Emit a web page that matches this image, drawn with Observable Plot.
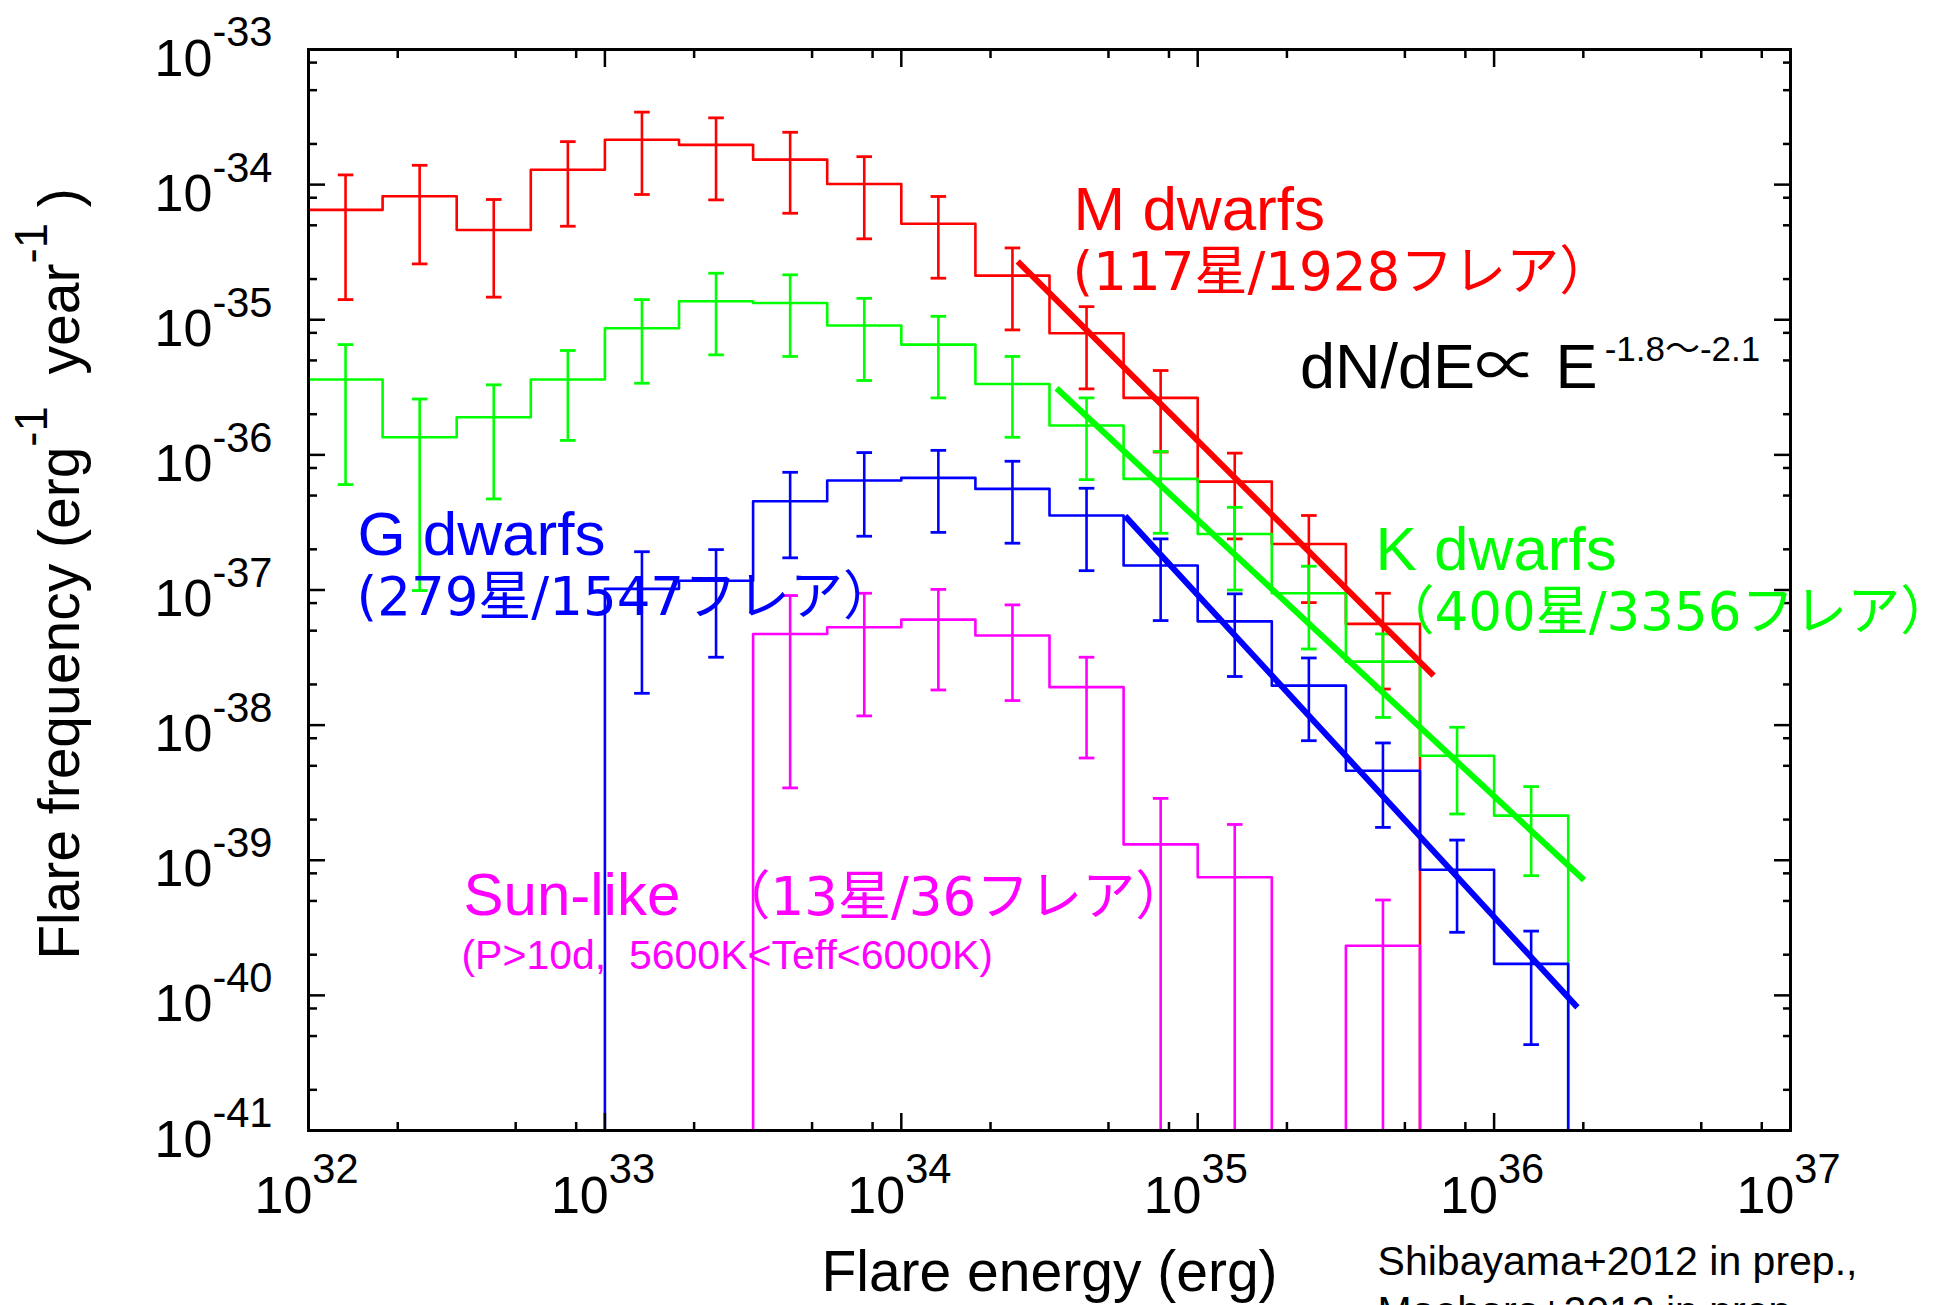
<!DOCTYPE html>
<html>
<head>
<meta charset="utf-8">
<script src="https://cdn.jsdelivr.net/npm/d3@7"></script>
<script src="https://cdn.jsdelivr.net/npm/@observablehq/plot@0.6"></script>
<style>
  html, body { margin: 0; padding: 0; background: #fff; overflow: hidden; }
  #chart svg text { white-space: pre; }
</style>
</head>
<body>
<div id="chart"></div>
<script>
// Flare frequency distributions of superflares on M, K, G dwarfs and Sun-like stars.
// Histogram bins are 0.25 dex wide in flare energy; each array lists one value per bin.
const BIN = 0.25;

// M dwarfs (bins from 10^32 erg)
const mStart = 32;
const mFreq = [6.50e-35, 8.20e-35, 4.62e-35, 1.29e-34, 2.15e-34, 1.97e-34, 1.53e-34, 1.01e-34, 5.13e-35, 2.12e-35, 7.94e-36, 2.64e-36, 6.34e-37, 2.19e-37, 5.61e-38];
const mHi   = [1.18e-34, 1.39e-34, 7.76e-35, 2.08e-34, 3.44e-34, 3.12e-34, 2.44e-34, 1.61e-34, 8.17e-35, 3.40e-35, 1.25e-35, 4.21e-36, 1.03e-36, 3.56e-37, 9.46e-38];
const mLo   = [1.41e-35, 2.59e-35, 1.47e-35, 4.92e-35, 8.45e-35, 7.71e-35, 6.14e-35, 3.97e-35, 2.03e-35, 8.41e-36, 3.08e-36, 1.05e-36, 2.39e-37, 8.07e-38, 1.85e-38];

// K dwarfs (bins from 10^32 erg)
const kStart = 32;
const kFreq = [3.61e-36, 1.35e-36, 1.90e-36, 3.61e-36, 8.65e-36, 1.37e-35, 1.33e-35, 9.06e-36, 6.55e-36, 3.35e-36, 1.65e-36, 6.64e-37, 2.60e-37, 9.46e-38, 2.95e-38, 5.94e-39, 2.14e-39];
const kHi   = [6.55e-36, 2.59e-36, 3.30e-36, 5.92e-36, 1.41e-35, 2.21e-35, 2.15e-35, 1.44e-35, 1.06e-35, 5.35e-36, 2.64e-36, 1.06e-36, 4.09e-37, 1.50e-37, 4.73e-38, 9.64e-39, 3.51e-39];
const kLo   = [6.03e-37, 9.91e-38, 4.72e-37, 1.28e-36, 3.39e-36, 5.50e-36, 5.35e-36, 3.55e-36, 2.64e-36, 1.35e-36, 6.56e-37, 2.63e-37, 1.00e-37, 3.66e-38, 1.14e-38, 2.20e-39, 7.69e-40];

// G dwarfs (bins from 10^33 erg)
const gStart = 33;
const gFreq = [1.02e-37, 1.17e-37, 4.54e-37, 6.46e-37, 6.76e-37, 5.60e-37, 3.56e-37, 1.52e-37, 5.86e-38, 1.96e-38, 4.60e-39, 8.51e-40, 1.71e-40];
const gHi   = [1.92e-37, 1.99e-37, 7.43e-37, 1.04e-36, 1.08e-36, 8.97e-37, 5.66e-37, 2.39e-37, 9.37e-38, 3.14e-38, 7.38e-39, 1.41e-39, 2.99e-40];
const gLo   = [1.72e-38, 3.18e-38, 1.73e-37, 2.50e-37, 2.67e-37, 2.22e-37, 1.39e-37, 5.94e-38, 2.29e-38, 7.67e-39, 1.75e-39, 2.93e-40, 4.32e-41];

// Sun-like stars (bins from 10^33.5 erg); 0 = empty bin / error bar reaching the axis
const sStart = 33.5;
const sFreq = [4.73e-38, 5.30e-38, 6.04e-38, 4.60e-38, 1.91e-38, 1.31e-39, 7.48e-40, 0, 2.33e-40];
const sHi   = [9.10e-38, 9.46e-38, 1.01e-37, 7.76e-38, 3.18e-38, 2.87e-39, 1.84e-39, 0, 5.08e-40];
const sLo   = [3.43e-39, 1.17e-38, 1.82e-38, 1.52e-38, 5.71e-39, 0, 0, 0, 0];

// Power-law fits dN/dE ∝ E^-α : [E start, freq start, E end, freq end]
const mFit = [2.47e34, 2.70e-35, 6.25e35, 2.32e-38];
const kFit = [3.34e34, 3.11e-36, 2.01e36, 7.14e-40];
const gFit = [5.69e34, 3.52e-37, 1.91e36, 8.15e-41];

// Axis ticks (decade exponents and minor multipliers)
const xDecades = [32, 33, 34, 35, 36, 37];
const yDecades = [-41, -40, -39, -38, -37, -36, -35, -34, -33];
const minorMult = [2, 5, 8];

// Colours
const RED = "#ff0000", GREEN = "#00ff00", BLUE = "#0000ff", MAGENTA = "#ff00ff";

// Annotation texts, positioned at [log10 E, log10 frequency]
const latinLabels = [
  {text: "M dwarfs", e: 34.581, f: -34.338, color: RED, size: 62},
  {text: "K dwarfs", e: 35.600, f: -36.849, color: GREEN, size: 62},
  {text: "G dwarfs", e: 32.165, f: -36.743, color: BLUE, size: 62},
  {text: "Sun-like", e: 32.523, f: -39.408, color: MAGENTA, size: 60},
  {text: "(P>10d,  5600K<Teff<6000K)", e: 32.516, f: -39.802, color: MAGENTA, size: 41},
  {text: "dN/dE∝ E", e: 35.345, f: -35.505, color: "#000000", size: 63},
  {text: "-1.8〜-2.1", e: 36.373, f: -35.307, color: "#000000", size: 35}
];
const countLabels = [
  {text: "(117星/1928フレア）", e: 34.578, f: -34.782, color: RED},
  {text: "（400星/3356フレア）", e: 35.620, f: -37.293, color: GREEN},
  {text: "(279星/1547フレア）", e: 32.162, f: -37.187, color: BLUE},
  {text: "（13星/36フレア）", e: 33.380, f: -39.408, color: MAGENTA}
];
const credits = "Shibayama+2012 in prep.,\nMaehara+2012 in prep.";
const xTitle = "Flare energy (erg)";
const yTitle = "Flare frequency (erg^{-1}  year^{-1} )";

const X_MIN = 1e32, X_MAX = 1e37, Y_FLOOR = 1e-41, Y_MAX = 1e-33;

const series = [
  {start: mStart, freq: mFreq, hi: mHi, lo: mLo, color: RED},
  {start: kStart, freq: kFreq, hi: kHi, lo: kLo, color: GREEN},
  {start: gStart, freq: gFreq, hi: gHi, lo: gLo, color: BLUE},
  {start: sStart, freq: sFreq, hi: sHi, lo: sLo, color: MAGENTA}
];
const fits = [
  {v: mFit, color: RED},
  {v: kFit, color: GREEN},
  {v: gFit, color: BLUE}
];

const clampY = (v) => (v > 0 ? v : Y_FLOOR);

// Outline of a step histogram, rising from / falling to the axis where it starts or ends
function stepPoints(s) {
  const pts = [];
  if (10 ** s.start > X_MIN) pts.push({x: 10 ** s.start, y: Y_FLOOR});
  s.freq.forEach((v, i) => pts.push({x: 10 ** (s.start + i * BIN), y: clampY(v)}));
  const end = 10 ** (s.start + s.freq.length * BIN);
  pts.push({x: end, y: clampY(s.freq[s.freq.length - 1])});
  pts.push({x: end, y: Y_FLOOR});
  return pts;
}
function errorBars(s) {
  return s.freq
    .map((v, i) => ({x: 10 ** (s.start + (i + 0.5) * BIN), v, lo: clampY(s.lo[i]), hi: s.hi[i]}))
    .filter((d) => d.v > 0);
}
// Error-bar caps: both ends of every bar
function errorCaps(s) {
  return errorBars(s).flatMap((d) => [{x: d.x, y: d.lo}, {x: d.x, y: d.hi}]);
}
// Horizontal cap symbol; half-width equals the dot radius
const capSymbol = {
  draw(context, size) {
    const w = Math.sqrt(size / Math.PI);
    context.moveTo(-w, 0);
    context.lineTo(w, 0);
  }
};

const xMajor = xDecades.map((p) => 10 ** p);
const xMinor = xDecades.slice(0, -1).flatMap((p) => minorMult.map((m) => m * 10 ** p));
const yMajor = yDecades.map((p) => 10 ** p);
const yMinor = yDecades.slice(0, -1).flatMap((p) => minorMult.map((m) => m * 10 ** p));

const dataMarks = series.flatMap((s) => [
  Plot.line(stepPoints(s), {x: "x", y: "y", curve: "step-after", stroke: s.color, strokeWidth: 2.6}),
  Plot.link(errorBars(s), {x1: "x", x2: "x", y1: "lo", y2: "hi", stroke: s.color, strokeWidth: 2.6}),
  Plot.dot(errorCaps(s), {x: "x", y: "y", symbol: capSymbol, r: 7.8, fill: "none", stroke: s.color, strokeWidth: 2.8})
]);
const fitMarks = fits.map((f) =>
  Plot.link([f.v], {x1: (d) => d[0], y1: (d) => d[1], x2: (d) => d[2], y2: (d) => d[3],
    stroke: f.color, strokeWidth: 6})
);

const tickOpts = {tickFormat: () => "", label: null, strokeWidth: 2.5};
const axisMarks = [
  Plot.axisX(xMajor, {...tickOpts, anchor: "bottom", tickSize: -17}),
  Plot.axisX(xMinor, {...tickOpts, anchor: "bottom", tickSize: -8}),
  Plot.axisX(xMajor, {...tickOpts, anchor: "top", tickSize: -17}),
  Plot.axisX(xMinor, {...tickOpts, anchor: "top", tickSize: -8}),
  Plot.axisY(yMajor, {...tickOpts, anchor: "left", tickSize: -17}),
  Plot.axisY(yMinor, {...tickOpts, anchor: "left", tickSize: -9}),
  Plot.axisY(yMajor, {...tickOpts, anchor: "right", tickSize: -17}),
  Plot.axisY(yMinor, {...tickOpts, anchor: "right", tickSize: -8})
];

const SANS = "Liberation Sans, Arial, Noto Sans CJK JP, sans-serif";
const CJK = "DejaVu Sans, Noto Sans CJK JP, sans-serif";

const textMarks = [
  // tick labels 10^n
  Plot.text(xDecades, {x: (d) => 10 ** d, text: (d) => `10^{${d}}`, frameAnchor: "bottom",
    textAnchor: "start", lineAnchor: "bottom", dx: -54, dy: 82, fontSize: 52, fontFamily: SANS, fill: "black"}),
  Plot.text(yDecades, {y: (d) => 10 ** d, text: (d) => `10^{${d}}`, frameAnchor: "left",
    textAnchor: "end", lineAnchor: "bottom", dx: -36, dy: 26, fontSize: 52, fontFamily: SANS, fill: "black"}),
  // axis titles
  Plot.text([xTitle], {text: (d) => d, frameAnchor: "bottom", textAnchor: "middle", lineAnchor: "bottom",
    dy: 160, fontSize: 57, fontFamily: SANS, fill: "black"}),
  Plot.text([yTitle], {text: (d) => d, frameAnchor: "left", textAnchor: "middle", rotate: -90,
    lineAnchor: "bottom", dx: -230, dy: -16, fontSize: 57, fontFamily: SANS, fill: "black"}),
  // series labels and fit note
  Plot.text(latinLabels, {x: (d) => 10 ** d.e, y: (d) => 10 ** d.f, text: "text", fill: "color",
    fontSize: (d) => d.size, textAnchor: "start", lineAnchor: "bottom", fontFamily: SANS}),
  Plot.text(countLabels, {x: (d) => 10 ** d.e, y: (d) => 10 ** d.f, text: "text", fill: "color",
    fontSize: 53, textAnchor: "start", lineAnchor: "bottom", fontFamily: CJK}),
  // references
  Plot.text([credits], {x: 10 ** 35.607, text: (d) => d, frameAnchor: "bottom", textAnchor: "start",
    lineAnchor: "top", lineHeight: 1.22, dy: 109, fontSize: 41, fontFamily: SANS, fill: "black"})
];

const chart = Plot.plot({
  width: 1934,
  height: 1305,
  marginLeft: 308,
  marginRight: 144,
  marginTop: 49,
  marginBottom: 175,
  x: {type: "log", domain: [X_MIN, X_MAX], axis: null},
  y: {type: "log", domain: [Y_FLOOR, Y_MAX], axis: null},
  color: {type: "identity"},
  style: {background: "white", fontFamily: SANS, overflow: "visible"},
  marks: [
    ...dataMarks,
    ...fitMarks,
    Plot.frame({stroke: "black", strokeWidth: 3}),
    ...axisMarks,
    ...textMarks
  ]
});
document.getElementById("chart").appendChild(chart);

// Render "^{...}" segments of text as raised, smaller exponents
function raiseExponents(svg) {
  const NS = "http://www.w3.org/2000/svg";
  svg.querySelectorAll("text").forEach((t) => {
    const s = t.textContent;
    if (!s.includes("^{")) return;
    const base = parseFloat(getComputedStyle(t).fontSize);
    const small = base * 0.8, rise = base * 0.56;
    t.textContent = "";
    let raised = false;
    s.split(/\^\{([^}]*)\}/).forEach((part, i) => {
      if (part === "") return;
      const ts = document.createElementNS(NS, "tspan");
      ts.textContent = part;
      if (i % 2 === 1) {
        ts.setAttribute("font-size", small);
        ts.setAttribute("dy", -rise);
        raised = true;
      } else if (raised) {
        ts.setAttribute("dy", rise);
        raised = false;
      }
      t.appendChild(ts);
    });
  });
}
raiseExponents(chart);
</script>
</body>
</html>
